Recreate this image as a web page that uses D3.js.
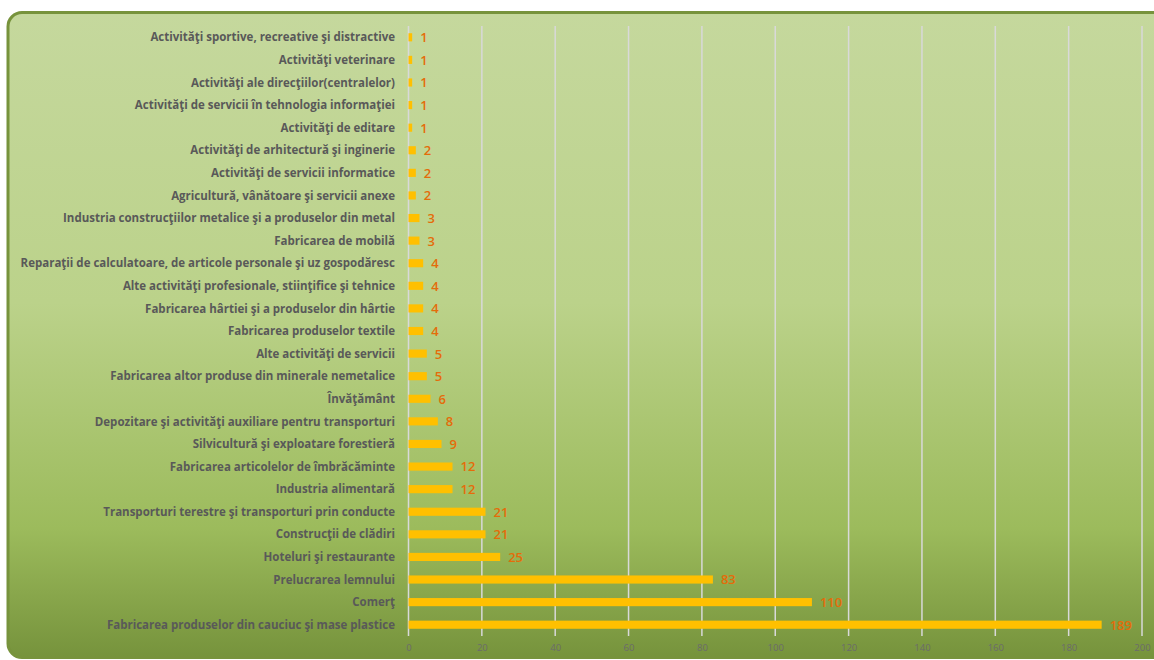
<!DOCTYPE html>
<html>
<head>
<meta charset="utf-8">
<script src="https://cdn.jsdelivr.net/npm/d3@7"></script>
<style>
  body { margin: 0; background: #fff; }
  svg { display: block; }
</style>
</head>
<body>
<script>
const categories = [
  "Activităţi sportive, recreative şi distractive",
  "Activităţi veterinare",
  "Activităţi ale direcţiilor(centralelor)",
  "Activităţi de servicii în tehnologia informaţiei",
  "Activităţi de editare",
  "Activităţi de arhitectură şi inginerie",
  "Activităţi de servicii informatice",
  "Agricultură, vânătoare şi servicii anexe",
  "Industria construcţiilor metalice şi a produselor din metal",
  "Fabricarea de mobilă ",
  "Reparaţii de calculatoare, de articole personale şi uz gospodăresc",
  "Alte activităţi profesionale, stiinţifice şi tehnice",
  "Fabricarea hârtiei şi a produselor din hârtie",
  "Fabricarea produselor textile",
  "Alte activităţi de servicii",
  "Fabricarea altor produse din minerale nemetalice",
  "Învăţământ",
  "Depozitare şi activităţi auxiliare pentru transporturi",
  "Silvicultură şi exploatare forestieră",
  "Fabricarea articolelor de îmbrăcăminte",
  "Industria alimentară",
  "Transporturi terestre şi transporturi prin conducte",
  "Construcţii de clădiri",
  "Hoteluri şi restaurante",
  "Prelucrarea lemnului",
  "Comerţ ",
  "Fabricarea produselor din cauciuc şi mase plastice"
];
const values = [1, 1, 1, 1, 1, 2, 2, 2, 3, 3, 4, 4, 4, 4, 5, 5, 6, 8, 9, 12, 12, 21, 21, 25, 83, 110, 189];
const xTicks = [0, 20, 40, 60, 80, 100, 120, 140, 160, 180, 200];

const width = 1154, height = 660;
const labelFont = "'Open Sans', sans-serif";

const svg = d3.select("body").append("svg")
  .attr("width", width)
  .attr("height", height);

const defs = svg.append("defs");
const grad = defs.append("linearGradient")
  .attr("id", "bg")
  .attr("x1", 0).attr("y1", 0).attr("x2", 0).attr("y2", 1);
grad.append("stop").attr("offset", "0%").attr("stop-color", "#c5d89d");
grad.append("stop").attr("offset", "45%").attr("stop-color", "#bbd28a");
grad.append("stop").attr("offset", "80%").attr("stop-color", "#9cbb5c");
grad.append("stop").attr("offset", "100%").attr("stop-color", "#76933c");

// panel
svg.append("rect")
  .attr("x", 8)
  .attr("y", 12.5)
  .attr("width", 1250)
  .attr("height", 645)
  .attr("rx", 14)
  .attr("fill", "url(#bg)")
  .attr("stroke", "#77933c")
  .attr("stroke-width", 3);

const x = d3.scaleLinear().domain([0, 200]).range([408.5, 1142]);
const y = d3.scaleBand().domain(categories).range([26, 636]).paddingInner(0.64).paddingOuter(0.32);

// gridlines
svg.append("g")
  .selectAll("line")
  .data(xTicks)
  .join("line")
  .attr("x1", d => x(d)).attr("x2", d => x(d))
  .attr("y1", 26).attr("y2", 636)
  .attr("stroke", "#d9d9d9")
  .attr("stroke-width", 1.5);

// x axis labels
const xAxis = svg.append("g")
  .attr("transform", "translate(0,636)")
  .call(d3.axisBottom(x).tickValues(xTicks).tickSize(0).tickPadding(8));
xAxis.select(".domain").remove();
xAxis.selectAll("text")
  .attr("fill", "#6b6b6b")
  .attr("font-family", labelFont)
  .attr("font-size", 9.5);

// bars
svg.append("g")
  .selectAll("rect")
  .data(values)
  .join("rect")
  .attr("x", x(0))
  .attr("y", (d, i) => y(categories[i]))
  .attr("width", d => x(d) - x(0))
  .attr("height", y.bandwidth())
  .attr("fill", "#ffc000");

// category labels
svg.append("g")
  .selectAll("text")
  .data(categories)
  .join("text")
  .attr("x", 395)
  .attr("y", d => y(d) + y.bandwidth() / 2)
  .attr("dy", "0.36em")
  .attr("text-anchor", "end")
  .attr("font-family", labelFont)
  .attr("font-weight", "bold")
  .attr("font-size", 11.5)
  .attr("fill", "#595959")
  .text(d => d);

// value labels
svg.append("g")
  .selectAll("text")
  .data(values)
  .join("text")
  .attr("x", d => x(d) + 8)
  .attr("y", (d, i) => y(categories[i]) + y.bandwidth() / 2)
  .attr("dy", "0.38em")
  .attr("font-family", labelFont)
  .attr("font-weight", 600)
  .attr("font-size", 13)
  .attr("fill", "#e46c0a")
  .text(d => d);
</script>
</body>
</html>
